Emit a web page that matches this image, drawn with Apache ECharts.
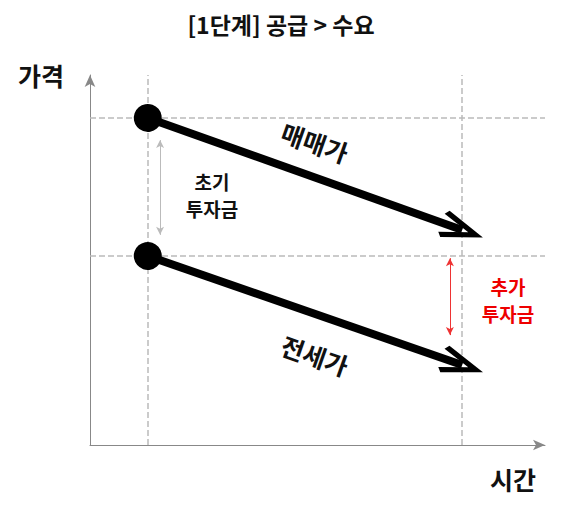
<!DOCTYPE html>
<html><head><meta charset="utf-8">
<script src="https://cdn.jsdelivr.net/npm/echarts@6/dist/echarts.min.js"></script>
<style>html,body{margin:0;background:#fff}#c{width:562px;height:520px}</style>
</head><body><div id="c"></div>
<script>
var font = '"Noto Sans CJK KR", sans-serif';
// price lines: [start, end] in (time, price) units
var saleLine = [[12.7, 88.4], [81.8, 58.1]];
var leaseLine = [[12.7, 51.1], [81.8, 21.6]];
var guideX = [12.7, 81.8];
var guideY = [88.4, 51.1];
var initGap = [[15.4, 82.4], [15.4, 56.8]];
var addGap = [[79.1, 50.5], [79.1, 29.7]];
var chevron = 'path://M0,22 L11,0 L22,22 L18.5,24 L11,8.5 L3.5,24 Z';

var chart = echarts.init(document.getElementById('c'), null, { renderer: 'svg' });
function pair(p) { return [{ coord: p[0] }, { coord: p[1] }]; }
chart.setOption({
  animation: false,
  grid: { left: 90, right: 17, top: 75, bottom: 75 },
  xAxis: { type: 'value', min: 0, max: 100, axisLabel: { show: false }, axisTick: { show: false }, splitLine: { show: false },
    axisLine: { onZero: false, symbol: ['none', 'arrow'], symbolSize: [8, 12], lineStyle: { color: '#888' } } },
  yAxis: { type: 'value', min: 0, max: 100, axisLabel: { show: false }, axisTick: { show: false }, splitLine: { show: false },
    axisLine: { onZero: false, symbol: ['none', 'arrow'], symbolSize: [8, 12], lineStyle: { color: '#888' } } },
  graphic: [
    { type: 'text', left: 'center', top: 12, style: { text: '[1단계] 공급 > 수요', font: 'bold 23px ' + font, fill: '#111' } },
    { type: 'text', left: 18, top: 62, style: { text: '가격', font: 'bold 25px ' + font, fill: '#111' } },
    { type: 'text', left: 490, top: 466, style: { text: '시간', font: 'bold 25px ' + font, fill: '#111' } },
    { type: 'text', x: 315, y: 142, rotation: -0.34, style: { text: '매매가', font: 'bold 25px ' + font, fill: '#111', align: 'center', verticalAlign: 'middle' } },
    { type: 'text', x: 315, y: 355, rotation: -0.34, style: { text: '전세가', font: 'bold 25px ' + font, fill: '#111', align: 'center', verticalAlign: 'middle' } },
    { type: 'text', x: 212, y: 195, style: { text: '초기\n투자금', font: 'bold 19px ' + font, lineHeight: 27, fill: '#111', align: 'center', verticalAlign: 'middle' } },
    { type: 'text', x: 508, y: 300, style: { text: '추가\n투자금', font: 'bold 19px ' + font, lineHeight: 27, fill: '#e00', align: 'center', verticalAlign: 'middle' } }
  ],
  series: [
    { type: 'line', data: [], markLine: { silent: true, symbol: 'none', label: { show: false },
      lineStyle: { color: '#bbb', type: 'dashed', width: 1.5 },
      data: guideX.map(function (v) { return { xAxis: v }; }).concat(guideY.map(function (v) { return { yAxis: v }; })) } },
    { type: 'line', data: [], markLine: { silent: true, symbol: ['arrow', 'arrow'], symbolSize: [6, 8], label: { show: false },
      data: [pair(initGap)], lineStyle: { color: '#bbb', type: 'solid', width: 1 } } },
    { type: 'line', data: [], markLine: { silent: true, symbol: ['arrow', 'arrow'], symbolSize: [6, 8], label: { show: false },
      data: [pair(addGap)], lineStyle: { color: '#e33', type: 'solid', width: 1 } } },
    { type: 'line', data: [], markLine: { silent: true, symbol: ['circle', chevron], symbolSize: [28, 44], label: { show: false },
      lineStyle: { color: '#000', type: 'solid', width: 8 }, itemStyle: { color: '#000' },
      data: [pair(saleLine), pair(leaseLine)] } }
  ]
});
</script></body></html>
